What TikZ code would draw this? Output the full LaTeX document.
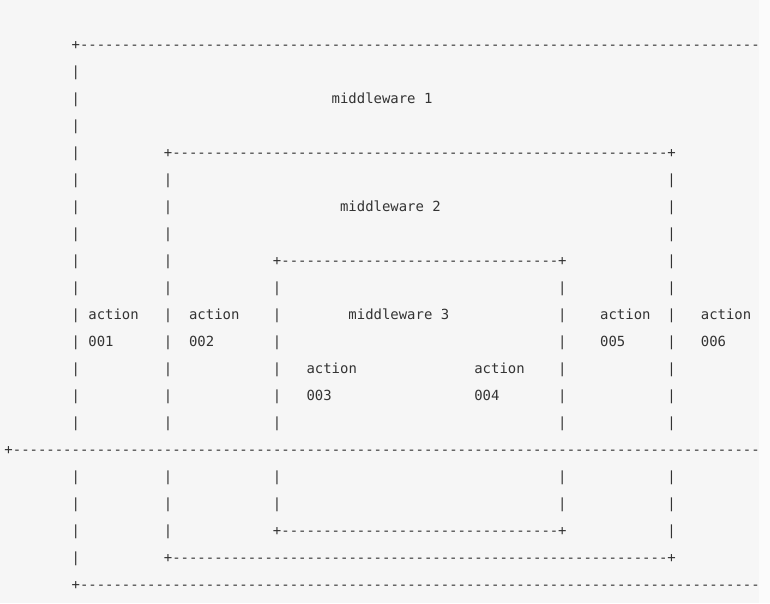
\documentclass[tikz,border=0pt]{standalone}
\usepackage{fontspec}
\setmonofont{DejaVu Sans Mono}
\definecolor{codebg}{HTML}{F6F6F6}
\definecolor{pagebg}{HTML}{FBFBFB}
\definecolor{ink}{HTML}{333333}
\newcommand\cw{8.39}
\newcommand\rowh{27}
\newcommand\dashrun[1]{\foreach\i in {1,...,#1}{-}}
\newcommand\tx[4]{\node[asc] (#1) at ({4.5+\cw*#2},{49+\rowh*#3}) {#4};}
\tikzset{asc/.style={anchor=base west,inner sep=0pt,outer sep=0pt,text=ink,
  font=\ttfamily\fontsize{13.94pt}{16pt}\selectfont}}
\begin{document}
\begin{tikzpicture}[x=1pt,y=-1pt]
\useasboundingbox (0,0) rectangle (770,603);
\fill[pagebg] (0,0) rectangle (770,603);
\fill[codebg] (0,0) rectangle (759,603);
\begin{scope}
\clip (0,0) rectangle (759,603);
% horizontal rules
\tx{p1tl}{8}{0}{+}   \tx{h1top}{9}{0}{\dashrun{84}}
\tx{p2tl}{19}{4}{+}  \tx{h2top}{20}{4}{\dashrun{59}}  \tx{p2tr}{79}{4}{+}
\tx{p3tl}{32}{8}{+}  \tx{h3top}{33}{8}{\dashrun{33}}  \tx{p3tr}{66}{8}{+}
\tx{pmid}{0}{15}{+}  \tx{hmid}{1}{15}{\dashrun{92}}
\tx{p3bl}{32}{18}{+} \tx{h3bot}{33}{18}{\dashrun{33}} \tx{p3br}{66}{18}{+}
\tx{p2bl}{19}{19}{+} \tx{h2bot}{20}{19}{\dashrun{59}} \tx{p2br}{79}{19}{+}
\tx{p1bl}{8}{20}{+}  \tx{h1bot}{9}{20}{\dashrun{84}}
% vertical bars
\foreach \r in {1,...,14,16,17,18,19} {\tx{va\r}{8}{\r}{|}}
\foreach \r in {5,...,14,16,17,18} {\tx{vb\r}{19}{\r}{|} \tx{ve\r}{79}{\r}{|}}
\foreach \r in {9,...,14,16,17} {\tx{vc\r}{32}{\r}{|} \tx{vd\r}{66}{\r}{|}}
% labels
\tx{mw1}{39}{2}{middleware 1}
\tx{mw2}{40}{6}{middleware 2}
\tx{mw3}{41}{10}{middleware 3}
\tx{a1a}{10}{10}{action} \tx{a1b}{10}{11}{001}
\tx{a2a}{22}{10}{action} \tx{a2b}{22}{11}{002}
\tx{a3a}{36}{12}{action} \tx{a3b}{36}{13}{003}
\tx{a4a}{56}{12}{action} \tx{a4b}{56}{13}{004}
\tx{a5a}{71}{10}{action} \tx{a5b}{71}{11}{005}
\tx{a6a}{83}{10}{action} \tx{a6b}{83}{11}{006}
\end{scope}
\end{tikzpicture}
\end{document}
